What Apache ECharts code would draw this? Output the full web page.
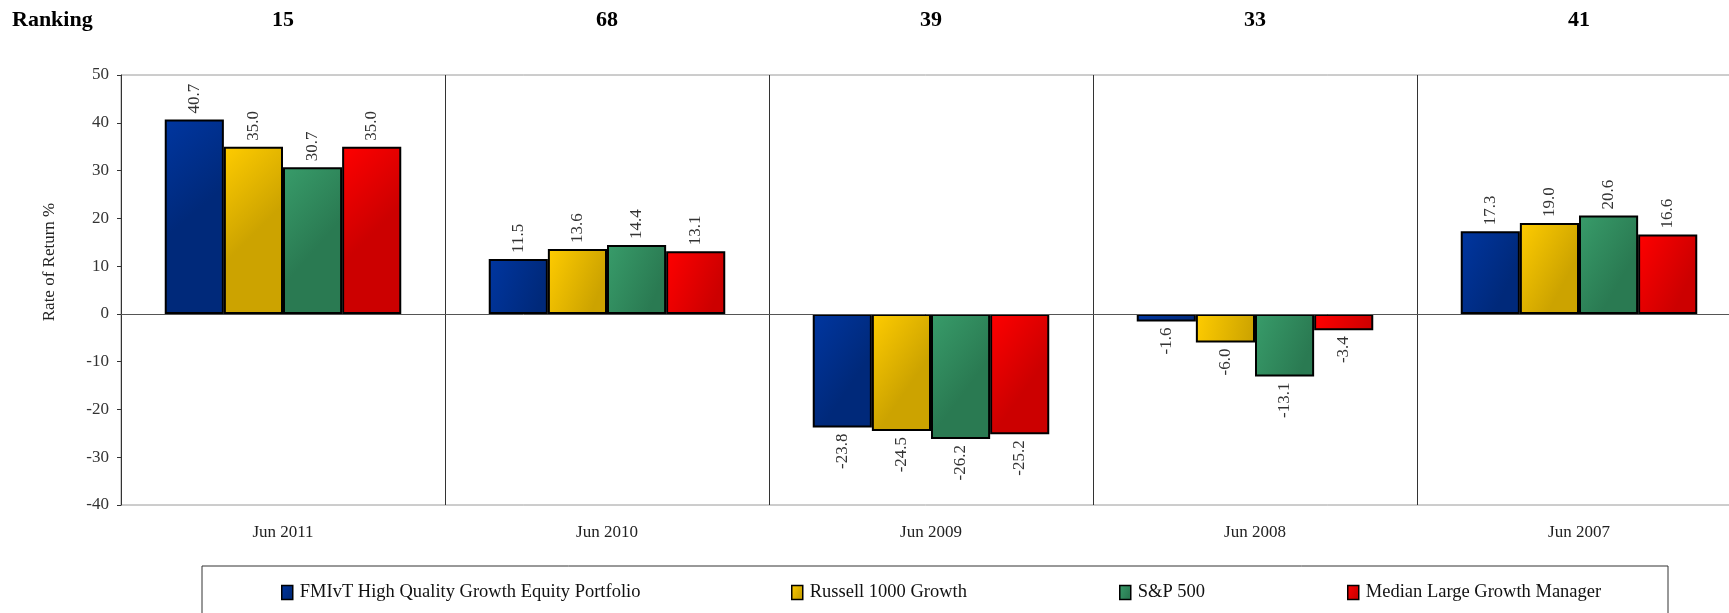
<!DOCTYPE html>
<html>
<head>
<meta charset="utf-8">
<script src="https://cdn.jsdelivr.net/npm/echarts@6/dist/echarts.min.js"></script>
<style>
html,body{margin:0;padding:0;background:#fff;overflow:hidden;}
#chart{width:1729px;height:613px;}
</style>
</head>
<body>
<div id="chart"></div>
<script>
const categories = ['Jun 2011', 'Jun 2010', 'Jun 2009', 'Jun 2008', 'Jun 2007'];
const rankings = ['15', '68', '39', '33', '41'];
const seriesNames = ['FMIvT High Quality Growth Equity Portfolio', 'Russell 1000 Growth', 'S&P 500', 'Median Large Growth Manager'];
const fmivt = [40.7, 11.5, -23.8, -1.6, 17.3];
const russell = [35.0, 13.6, -24.5, -6.0, 19.0];
const sp500 = [30.7, 14.4, -26.2, -13.1, 20.6];
const median = [35.0, 13.1, -25.2, -3.4, 16.6];
const yTicks = { min: -40, max: 50, interval: 10 };

const FONT = '"Liberation Serif", "DejaVu Serif", serif';
const gradients = [
  ['#0036a0', '#00297a'],
  ['#ffcc00', '#cca300'],
  ['#389c6a', '#2a7a52'],
  ['#ff0000', '#cc0000']
];
function grad(c) {
  return { type: 'linear', x: 0, y: 0, x2: 1, y2: 0.35,
    colorStops: [{ offset: 0, color: c[0] }, { offset: 1, color: c[1] }] };
}
const allData = [fmivt, russell, sp500, median];

const series = allData.map((arr, i) => ({
  name: seriesNames[i],
  type: 'bar',
  xAxisIndex: 0,
  barGap: '0%',
  barCategoryGap: '27%',
  itemStyle: { color: grad(gradients[i]), borderColor: '#000', borderWidth: 2 },
  label: {
    show: true, rotate: 90, distance: 6, color: '#333',
    fontFamily: FONT, fontSize: 17,
    formatter: p => p.value.toFixed(1)
  },
  data: arr.map(v => ({
    value: v,
    label: v >= 0 ? { position: 'top', align: 'left', verticalAlign: 'middle' }
                  : { position: 'bottom', align: 'right', verticalAlign: 'middle' }
  })),
  markLine: i === 0 ? {
    silent: true, symbol: 'none', label: { show: false },
    lineStyle: { color: '#555', type: 'solid', width: 1 },
    data: [{ yAxis: 0 }]
  } : undefined,
  z: 2
}));

const legendLefts = [276, 786, 1114, 1342];
const legends = seriesNames.map((n, i) => ({
  data: [n], left: legendLefts[i], top: 578, orient: 'horizontal',
  itemWidth: 11, itemHeight: 14, itemGap: 6, icon: 'rect', selectedMode: false,
  itemStyle: { borderColor: '#000', borderWidth: 1.5 },
  textStyle: { fontFamily: FONT, fontSize: 18.5, color: '#111', padding: [0, 0, 0, 2] }
}));

const chart = echarts.init(document.getElementById('chart'), null, { renderer: 'canvas' });
chart.setOption({
  backgroundColor: '#fff',
  animation: false,
  grid: { left: 121, top: 75, width: 1620, bottom: 108, show: true, borderColor: '#9a9a9a', borderWidth: 1, containLabel: false, outerBoundsMode: 'none' },
  legend: legends,
  xAxis: [
    {
      type: 'category', data: categories, position: 'bottom',
      axisLine: { show: false, onZero: false }, axisTick: { show: false },
      splitLine: { show: true, lineStyle: { color: '#333', width: 1 } },
      axisLabel: { fontFamily: FONT, fontSize: 17, color: '#222', margin: 19 }
    },
    {
      type: 'category', data: rankings, position: 'top',
      axisLine: { show: false }, axisTick: { show: false }, splitLine: { show: false },
      axisLabel: { fontFamily: FONT, fontSize: 22, fontWeight: 'bold', color: '#000', margin: 44 }
    }
  ],
  yAxis: {
    type: 'value', min: yTicks.min, max: yTicks.max, interval: yTicks.interval,
    axisLine: { show: true, lineStyle: { color: '#333' } },
    axisTick: { show: true, length: 4, lineStyle: { color: '#333' } },
    splitLine: { show: false },
    axisLabel: { fontFamily: FONT, fontSize: 17, color: '#333', margin: 12 }
  },
  graphic: [
    { type: 'text', left: 12, top: 9, style: { text: 'Ranking', font: 'bold 22px ' + FONT, fill: '#000' } },
    { type: 'text', x: 50, y: 262, rotation: Math.PI / 2,
      style: { text: 'Rate of Return %', font: '17px ' + FONT, fill: '#222', align: 'center', verticalAlign: 'middle' } },
    { type: 'rect', shape: { x: 202, y: 566, width: 1466, height: 80 },
      style: { fill: 'none', stroke: '#333', lineWidth: 1 }, silent: true }
  ],
  series: series
});
</script>
</body>
</html>
